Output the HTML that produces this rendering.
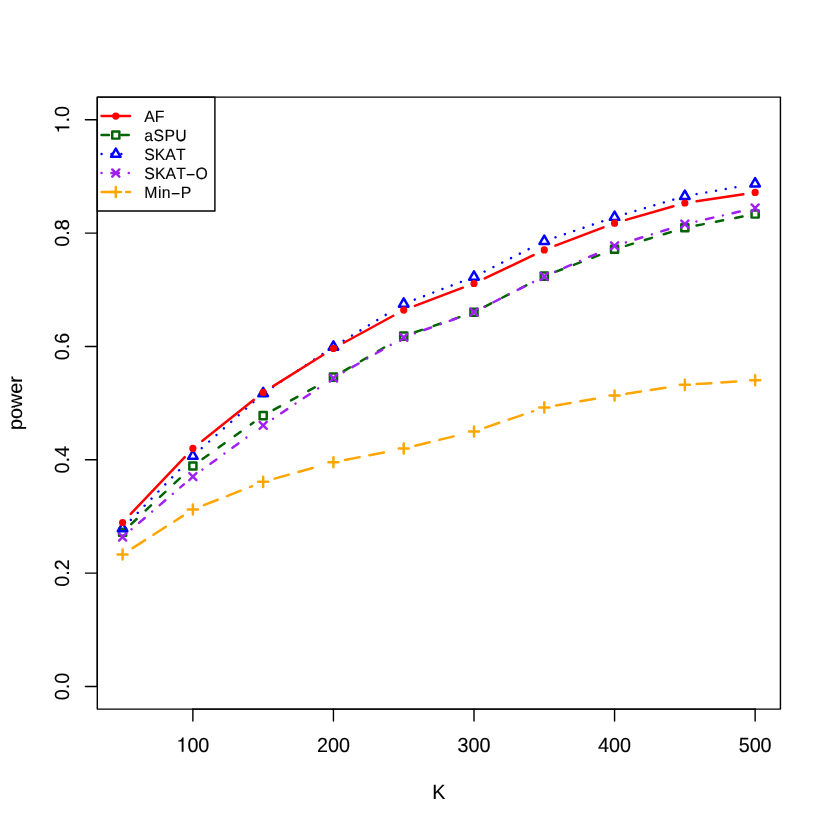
<!DOCTYPE html>
<html><head><meta charset="utf-8"><title>power vs K</title>
<style>html,body{margin:0;padding:0;background:#fff}body{width:830px;height:830px;overflow:hidden}</style></head>
<body>
<div style="width:830px;height:830px;will-change:transform">
<svg width="830" height="830" viewBox="0 0 830 830" style="display:block;text-rendering:geometricPrecision;font-kerning:none;font-family:'Liberation Sans',sans-serif">
<rect width="830" height="830" fill="#fff"/>
<g stroke="#006400" stroke-width="2.471" stroke-linecap="round" fill="none" stroke-dasharray="7.412 12.354"><line x1="131.23" y1="524.07" x2="184.25" y2="474.11"/><line x1="202.52" y1="459.07" x2="253.52" y2="422.51"/><line x1="273.57" y1="409.91" x2="323.04" y2="382.83"/><line x1="343.68" y1="371.16" x2="393.48" y2="342.08"/><line x1="414.95" y1="332.28" x2="462.78" y2="316.02"/><line x1="484.56" y1="306.79" x2="533.73" y2="281.57"/><line x1="555.36" y1="271.92" x2="603.49" y2="253.52"/><line x1="625.91" y1="245.81" x2="673.50" y2="231.27"/><line x1="696.49" y1="225.52" x2="743.49" y2="216.34"/></g>
<rect x="119.04" y="528.64" width="7.116" height="7.116" fill="none" stroke="#006400" stroke-width="2.471" stroke-linejoin="round"/><rect x="189.32" y="462.42" width="7.116" height="7.116" fill="none" stroke="#006400" stroke-width="2.471" stroke-linejoin="round"/><rect x="259.60" y="412.04" width="7.116" height="7.116" fill="none" stroke="#006400" stroke-width="2.471" stroke-linejoin="round"/><rect x="329.89" y="373.58" width="7.116" height="7.116" fill="none" stroke="#006400" stroke-width="2.471" stroke-linejoin="round"/><rect x="400.17" y="332.54" width="7.116" height="7.116" fill="none" stroke="#006400" stroke-width="2.471" stroke-linejoin="round"/><rect x="470.45" y="308.64" width="7.116" height="7.116" fill="none" stroke="#006400" stroke-width="2.471" stroke-linejoin="round"/><rect x="540.73" y="272.60" width="7.116" height="7.116" fill="none" stroke="#006400" stroke-width="2.471" stroke-linejoin="round"/><rect x="611.01" y="245.72" width="7.116" height="7.116" fill="none" stroke="#006400" stroke-width="2.471" stroke-linejoin="round"/><rect x="681.29" y="224.24" width="7.116" height="7.116" fill="none" stroke="#006400" stroke-width="2.471" stroke-linejoin="round"/><rect x="751.57" y="210.50" width="7.116" height="7.116" fill="none" stroke="#006400" stroke-width="2.471" stroke-linejoin="round"/>
<g stroke="#0000FF" stroke-width="2.471" stroke-linecap="round" fill="none" stroke-dasharray="0.001 9.883"><line x1="130.86" y1="519.89" x2="184.62" y2="464.51"/><line x1="201.74" y1="448.12" x2="254.30" y2="401.33"/><line x1="273.05" y1="386.90" x2="323.56" y2="353.45"/><line x1="343.56" y1="340.71" x2="393.61" y2="310.09"/><line x1="414.79" y1="299.65" x2="462.93" y2="281.15"/><line x1="484.58" y1="271.53" x2="533.71" y2="246.57"/><line x1="555.50" y1="237.35" x2="603.35" y2="220.95"/><line x1="625.93" y1="213.72" x2="673.48" y2="199.58"/><line x1="696.52" y1="194.12" x2="743.45" y2="185.78"/></g>
<path d="M122.60 522.87L127.39 531.17L117.81 531.17Z" fill="none" stroke="#0000FF" stroke-width="2.471" stroke-linejoin="round"/><path d="M192.88 450.47L197.67 458.77L188.09 458.77Z" fill="none" stroke="#0000FF" stroke-width="2.471" stroke-linejoin="round"/><path d="M263.16 387.92L267.95 396.22L258.37 396.22Z" fill="none" stroke="#0000FF" stroke-width="2.471" stroke-linejoin="round"/><path d="M333.44 341.37L338.24 349.67L328.65 349.67Z" fill="none" stroke="#0000FF" stroke-width="2.471" stroke-linejoin="round"/><path d="M403.72 298.37L408.52 306.67L398.93 306.67Z" fill="none" stroke="#0000FF" stroke-width="2.471" stroke-linejoin="round"/><path d="M474.00 271.37L478.80 279.67L469.21 279.67Z" fill="none" stroke="#0000FF" stroke-width="2.471" stroke-linejoin="round"/><path d="M544.28 235.67L549.08 243.97L539.49 243.97Z" fill="none" stroke="#0000FF" stroke-width="2.471" stroke-linejoin="round"/><path d="M614.57 211.57L619.36 219.87L609.77 219.87Z" fill="none" stroke="#0000FF" stroke-width="2.471" stroke-linejoin="round"/><path d="M684.85 190.67L689.64 198.97L680.05 198.97Z" fill="none" stroke="#0000FF" stroke-width="2.471" stroke-linejoin="round"/><path d="M755.13 178.17L759.92 186.47L750.33 186.47Z" fill="none" stroke="#0000FF" stroke-width="2.471" stroke-linejoin="round"/>
<g stroke="#A020F0" stroke-width="2.471" stroke-linecap="round" fill="none" stroke-dasharray="0.001 9.883 7.412 9.883"><line x1="131.60" y1="529.27" x2="183.89" y2="484.33"/><line x1="202.47" y1="469.62" x2="253.58" y2="432.38"/><line x1="273.00" y1="418.78" x2="323.61" y2="384.70"/><line x1="343.71" y1="372.13" x2="393.46" y2="343.31"/><line x1="414.88" y1="333.34" x2="462.85" y2="316.08"/><line x1="484.59" y1="306.71" x2="533.70" y2="281.85"/><line x1="555.16" y1="271.77" x2="603.69" y2="250.63"/><line x1="625.89" y1="242.39" x2="673.52" y2="227.61"/><line x1="696.41" y1="221.45" x2="743.57" y2="210.65"/></g>
<path d="M119.04 533.44L126.16 540.56M119.04 540.56L126.16 533.44" fill="none" stroke="#A020F0" stroke-width="2.471" stroke-linecap="round"/><path d="M189.32 473.04L196.44 480.16M189.32 480.16L196.44 473.04" fill="none" stroke="#A020F0" stroke-width="2.471" stroke-linecap="round"/><path d="M259.60 421.84L266.72 428.96M259.60 428.96L266.72 421.84" fill="none" stroke="#A020F0" stroke-width="2.471" stroke-linecap="round"/><path d="M329.89 374.52L337.00 381.64M329.89 381.64L337.00 374.52" fill="none" stroke="#A020F0" stroke-width="2.471" stroke-linecap="round"/><path d="M400.17 333.80L407.28 340.92M400.17 340.92L407.28 333.80" fill="none" stroke="#A020F0" stroke-width="2.471" stroke-linecap="round"/><path d="M470.45 308.50L477.56 315.62M470.45 315.62L477.56 308.50" fill="none" stroke="#A020F0" stroke-width="2.471" stroke-linecap="round"/><path d="M540.73 272.94L547.84 280.06M540.73 280.06L547.84 272.94" fill="none" stroke="#A020F0" stroke-width="2.471" stroke-linecap="round"/><path d="M611.01 242.34L618.12 249.46M611.01 249.46L618.12 242.34" fill="none" stroke="#A020F0" stroke-width="2.471" stroke-linecap="round"/><path d="M681.29 220.54L688.40 227.66M681.29 227.66L688.40 220.54" fill="none" stroke="#A020F0" stroke-width="2.471" stroke-linecap="round"/><path d="M751.57 204.44L758.68 211.56M751.57 211.56L758.68 204.44" fill="none" stroke="#A020F0" stroke-width="2.471" stroke-linecap="round"/>
<g stroke="#FFA500" stroke-width="2.471" stroke-linecap="round" fill="none" stroke-dasharray="14.825 9.883"><line x1="132.59" y1="548.09" x2="182.89" y2="515.91"/><line x1="203.92" y1="505.18" x2="252.13" y2="486.20"/><line x1="274.59" y1="478.67" x2="322.02" y2="465.43"/><line x1="345.09" y1="459.98" x2="392.08" y2="450.84"/><line x1="415.25" y1="445.77" x2="462.48" y2="434.24"/><line x1="485.23" y1="427.59" x2="533.06" y2="411.23"/><line x1="555.98" y1="405.41" x2="602.87" y2="397.46"/><line x1="626.29" y1="393.71" x2="673.12" y2="386.63"/><line x1="696.68" y1="384.10" x2="743.29" y2="381.10"/></g>
<path d="M117.57 554.48L127.63 554.48M122.60 549.45L122.60 559.51" fill="none" stroke="#FFA500" stroke-width="2.471" stroke-linecap="round"/><path d="M187.85 509.52L197.91 509.52M192.88 504.49L192.88 514.55" fill="none" stroke="#FFA500" stroke-width="2.471" stroke-linecap="round"/><path d="M258.13 481.86L268.19 481.86M263.16 476.83L263.16 486.89" fill="none" stroke="#FFA500" stroke-width="2.471" stroke-linecap="round"/><path d="M328.41 462.24L338.47 462.24M333.44 457.21L333.44 467.27" fill="none" stroke="#FFA500" stroke-width="2.471" stroke-linecap="round"/><path d="M398.69 448.58L408.76 448.58M403.72 443.55L403.72 453.61" fill="none" stroke="#FFA500" stroke-width="2.471" stroke-linecap="round"/><path d="M468.97 431.43L479.04 431.43M474.00 426.40L474.00 436.46" fill="none" stroke="#FFA500" stroke-width="2.471" stroke-linecap="round"/><path d="M539.25 407.39L549.32 407.39M544.28 402.36L544.28 412.42" fill="none" stroke="#FFA500" stroke-width="2.471" stroke-linecap="round"/><path d="M609.53 395.48L619.60 395.48M614.57 390.45L614.57 400.51" fill="none" stroke="#FFA500" stroke-width="2.471" stroke-linecap="round"/><path d="M679.81 384.86L689.88 384.86M684.85 379.83L684.85 389.89" fill="none" stroke="#FFA500" stroke-width="2.471" stroke-linecap="round"/><path d="M750.09 380.34L760.16 380.34M755.13 375.31L755.13 385.37" fill="none" stroke="#FFA500" stroke-width="2.471" stroke-linecap="round"/>
<g stroke="#FF0000" stroke-width="2.471" stroke-linecap="round" fill="none"><line x1="130.76" y1="513.90" x2="184.72" y2="457.03"/><line x1="202.16" y1="441.04" x2="253.89" y2="399.83"/><line x1="273.22" y1="386.15" x2="323.39" y2="354.73"/><line x1="343.85" y1="342.76" x2="393.31" y2="315.78"/><line x1="414.82" y1="305.90" x2="462.91" y2="287.70"/><line x1="484.71" y1="278.39" x2="533.58" y2="255.06"/><line x1="555.37" y1="245.72" x2="603.48" y2="227.37"/><line x1="625.97" y1="219.87" x2="673.44" y2="206.27"/><line x1="696.58" y1="201.24" x2="743.40" y2="194.24"/></g>
<circle cx="122.60" cy="522.50" r="2.372" fill="#FF0000" stroke="#FF0000" stroke-width="2.471"/><circle cx="192.88" cy="448.43" r="2.372" fill="#FF0000" stroke="#FF0000" stroke-width="2.471"/><circle cx="263.16" cy="392.44" r="2.372" fill="#FF0000" stroke="#FF0000" stroke-width="2.471"/><circle cx="333.44" cy="348.44" r="2.372" fill="#FF0000" stroke="#FF0000" stroke-width="2.471"/><circle cx="403.72" cy="310.10" r="2.372" fill="#FF0000" stroke="#FF0000" stroke-width="2.471"/><circle cx="474.00" cy="283.50" r="2.372" fill="#FF0000" stroke="#FF0000" stroke-width="2.471"/><circle cx="544.28" cy="249.95" r="2.372" fill="#FF0000" stroke="#FF0000" stroke-width="2.471"/><circle cx="614.57" cy="223.14" r="2.372" fill="#FF0000" stroke="#FF0000" stroke-width="2.471"/><circle cx="684.85" cy="203.00" r="2.372" fill="#FF0000" stroke="#FF0000" stroke-width="2.471"/><circle cx="755.13" cy="192.48" r="2.372" fill="#FF0000" stroke="#FF0000" stroke-width="2.471"/>
<g stroke="#000" stroke-width="1.420" fill="none" stroke-linecap="round" stroke-linejoin="round">
<rect x="97.30" y="97.12" width="683.13" height="611.97"/>
<line x1="192.88" y1="709.09" x2="755.13" y2="709.09"/>
<line x1="97.30" y1="686.42" x2="97.30" y2="119.79"/>
<line x1="192.88" y1="709.09" x2="192.88" y2="720.95"/>
<line x1="333.44" y1="709.09" x2="333.44" y2="720.95"/>
<line x1="474.00" y1="709.09" x2="474.00" y2="720.95"/>
<line x1="614.57" y1="709.09" x2="614.57" y2="720.95"/>
<line x1="755.13" y1="709.09" x2="755.13" y2="720.95"/>
<line x1="97.30" y1="686.42" x2="85.44" y2="686.42"/>
<line x1="97.30" y1="573.10" x2="85.44" y2="573.10"/>
<line x1="97.30" y1="459.77" x2="85.44" y2="459.77"/>
<line x1="97.30" y1="346.44" x2="85.44" y2="346.44"/>
<line x1="97.30" y1="233.11" x2="85.44" y2="233.11"/>
<line x1="97.30" y1="119.79" x2="85.44" y2="119.79"/>
</g>
<g font-size="19.766px" fill="#000" stroke="#000" stroke-width="0.12" text-anchor="start">
<g transform="translate(192.88 751.78) scale(1 1.035)"><path transform="translate(-16.49 0) scale(0.01977)" d="M271 0L271 -500L101 -500L101 -552C190 -556 278 -610 302 -703L359 -703L359 0Z" stroke-width="6.1"/><text x="-5.50" y="0">00</text></g>
<g transform="translate(333.44 751.78) scale(1 1.035)"><text x="-16.49" y="0">200</text></g>
<g transform="translate(474.00 751.78) scale(1 1.035)"><text x="-16.49" y="0">300</text></g>
<g transform="translate(614.57 751.78) scale(1 1.035)"><text x="-16.49" y="0">400</text></g>
<g transform="translate(755.13 751.78) scale(1 1.035)"><text x="-16.49" y="0">500</text></g>
<g transform="translate(438.86 799.22) scale(1 1.035)"><text text-anchor="middle">K</text></g>
<g transform="translate(69.24 686.42) rotate(-90) scale(1 1.035)"><text x="-13.74" y="0">0.0</text></g>
<g transform="translate(69.24 573.10) rotate(-90) scale(1 1.035)"><text x="-13.74" y="0">0.2</text></g>
<g transform="translate(69.24 459.77) rotate(-90) scale(1 1.035)"><text x="-13.74" y="0">0.4</text></g>
<g transform="translate(69.24 346.44) rotate(-90) scale(1 1.035)"><text x="-13.74" y="0">0.6</text></g>
<g transform="translate(69.24 233.11) rotate(-90) scale(1 1.035)"><text x="-13.74" y="0">0.8</text></g>
<g transform="translate(69.24 119.79) rotate(-90) scale(1 1.035)"><path transform="translate(-13.74 0) scale(0.01977)" d="M271 0L271 -500L101 -500L101 -552C190 -556 278 -610 302 -703L359 -703L359 0Z" stroke-width="6.1"/><text x="-2.75" y="0">.0</text></g>
<text text-anchor="middle" transform="translate(21.95 403.10) rotate(-90)">power</text>
</g>
<rect x="97.30" y="97.12" width="117.60" height="113.85" fill="none" stroke="#000" stroke-width="1.420" stroke-linejoin="round"/>
<line x1="101.57" y1="116.10" x2="130.03" y2="116.10" stroke="#FF0000" stroke-width="2.471" stroke-linecap="round"/>
<circle cx="115.80" cy="116.10" r="2.372" fill="#FF0000" stroke="#FF0000" stroke-width="2.471"/>
<text transform="translate(144.27 121.77) scale(1 1.035)" font-size="15.813px" fill="#000" stroke="#000" stroke-width="0.096" letter-spacing="0">AF</text>
<line x1="101.57" y1="135.07" x2="130.03" y2="135.07" stroke="#006400" stroke-width="2.471" stroke-linecap="round" stroke-dasharray="7.412 12.354"/>
<rect x="112.24" y="131.51" width="7.116" height="7.116" fill="none" stroke="#006400" stroke-width="2.471" stroke-linejoin="round"/>
<text transform="translate(144.27 140.75) scale(1 1.035)" font-size="15.813px" fill="#000" stroke="#000" stroke-width="0.096" letter-spacing="0.4">aSPU</text>
<line x1="101.57" y1="154.05" x2="130.03" y2="154.05" stroke="#0000FF" stroke-width="2.471" stroke-linecap="round" stroke-dasharray="0.001 9.883"/>
<path d="M115.80 148.51L120.59 156.81L111.01 156.81Z" fill="none" stroke="#0000FF" stroke-width="2.471" stroke-linejoin="round"/>
<text transform="translate(144.27 159.72) scale(1 1.035)" font-size="15.813px" fill="#000" stroke="#000" stroke-width="0.096" letter-spacing="0">SKAT</text>
<line x1="101.57" y1="173.02" x2="130.03" y2="173.02" stroke="#A020F0" stroke-width="2.471" stroke-linecap="round" stroke-dasharray="0.001 9.883 7.412 9.883"/>
<path d="M112.24 169.47L119.36 176.58M112.24 176.58L119.36 169.47" fill="none" stroke="#A020F0" stroke-width="2.471" stroke-linecap="round"/>
<text transform="translate(144.27 178.70) scale(1 1.035)" font-size="15.813px" fill="#000" stroke="#000" stroke-width="0.096" letter-spacing="0.14">SKAT<tspan dy="1.1">−</tspan><tspan dy="-1.1">O</tspan></text>
<line x1="101.57" y1="192.00" x2="130.03" y2="192.00" stroke="#FFA500" stroke-width="2.471" stroke-linecap="round" stroke-dasharray="14.825 9.883"/>
<path d="M110.77 192.00L120.83 192.00M115.80 186.97L115.80 197.03" fill="none" stroke="#FFA500" stroke-width="2.471" stroke-linecap="round"/>
<text transform="translate(144.27 197.68) scale(1 1.035)" font-size="15.813px" fill="#000" stroke="#000" stroke-width="0.096" letter-spacing="0.45">Min<tspan dy="1.1">−</tspan><tspan dy="-1.1">P</tspan></text>
</svg>
</div>
</body></html>
